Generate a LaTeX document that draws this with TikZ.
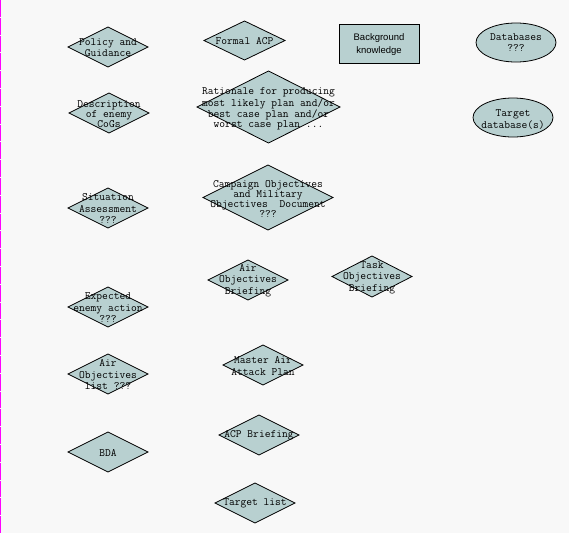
\documentclass[tikz,border=0pt]{standalone}
\usepackage{fontspec}
\setmainfont{Liberation Serif}
\newfontfamily\sansf{Liberation Sans}
\usetikzlibrary{shapes.geometric}
\definecolor{bgc}{HTML}{F8F8F8}
\definecolor{fillc}{HTML}{B8D0D0}
\definecolor{edgec}{HTML}{FF00FF}
\tikzset{
  dia/.style={diamond, draw=black, fill=fillc, line width=0.8pt, inner sep=0pt, outer sep=0pt},
  ell/.style={ellipse, draw=black, fill=fillc, line width=0.8pt, inner sep=0pt, outer sep=0pt},
  boxn/.style={rectangle, draw=black, fill=fillc, line width=0.8pt, inner sep=0pt, outer sep=0pt},
  txt/.style={align=center, inner sep=0pt, font=\ttfamily\fontsize{11.2}{11.7}\selectfont},
  txtt/.style={align=center, inner sep=0pt, font=\ttfamily\fontsize{11.2}{10}\selectfont},
  stxt/.style={align=center, inner sep=0pt, font=\sansf\fontsize{9.5}{13}\selectfont}
}
\begin{document}
\begin{tikzpicture}[x=1pt,y=-1pt]
\fill[bgc] (0,0) rectangle (569,533);
\useasboundingbox (0,0) rectangle (569,533);
\draw[edgec, line width=1.5pt, dash pattern=on 16.8pt off 1pt] (0.7,0) -- (0.7,533);

% left column
\node[dia, minimum width=80, minimum height=40] (pg) at (108,47) {};
\node[txt] (pgt) at (108,47.5) {Policy and\\Guidance};
\node[dia, minimum width=80, minimum height=40] (doe) at (109,113) {};
\node[txtt] (doet) at (109,114.5) {Description\\of enemy\\CoGs};
\node[dia, minimum width=80, minimum height=40] (sa) at (108,208) {};
\node[txt] (sat) at (108,208.8) {Situation\\Assessment\\???};
\node[dia, minimum width=80, minimum height=40] (eea) at (108,307) {};
\node[txt] (eeat) at (108,307.8) {Expected\\enemy action\\???};
\node[dia, minimum width=80, minimum height=40] (aol) at (108,374) {};
\node[txt] (aolt) at (108,374.8) {Air\\Objectives\\list ???};
\node[dia, minimum width=80, minimum height=40] (bda) at (108,452) {};
\node[txt] (bdat) at (108,452.5) {BDA};

% middle column
\node[dia, minimum width=81, minimum height=39] (facp) at (244.5,40.5) {};
\node[txt] (facpt) at (244.5,41) {Formal ACP};
\node[dia, minimum width=143, minimum height=72] (rat) at (268.5,107) {};
\node[txtt] (ratt) at (268.5,108.8) {Rationale for producing\\most likely plan and/or\\best case plan and/or\\worst case plan ...};
\node[dia, minimum width=130, minimum height=65] (camp) at (268,197.5) {};
\node[txtt] (campt) at (268,198.8) {Campaign Objectives\\and Military\\Objectives\ \ Document\\???};
\node[dia, minimum width=80, minimum height=40] (aob) at (248,280) {};
\node[txt] (aobt) at (248,280.5) {Air\\Objectives\\Briefing};
\node[dia, minimum width=80, minimum height=40] (maap) at (263,365) {};
\node[txt] (maapt) at (263,365.7) {Master Air\\Attack Plan};
\node[dia, minimum width=80, minimum height=40] (acpb) at (259,435) {};
\node[txt] (acpbt) at (259,435.5) {ACP Briefing};
\node[dia, minimum width=80, minimum height=40] (tl) at (255,503) {};
\node[txt] (tlt) at (255,503.5) {Target list};

% right part
\node[dia, minimum width=80, minimum height=41] (tob) at (372,276.5) {};
\node[txt] (tobt) at (372,277.7) {Task\\Objectives\\Briefing};
\node[boxn, minimum width=80, minimum height=39] (bk) at (379,43.5) {};
\node[stxt] (bkt) at (379,44.2) {Background\\knowledge};
\node[ell, minimum width=80, minimum height=39] (db) at (516,42.5) {};
\node[txt] (dbt) at (516,42.5) {Databases\\???};
\node[ell, minimum width=80, minimum height=39] (tdb) at (513,117.5) {};
\node[txt] (tdbt) at (513,119.7) {Target\\database(s)};
\end{tikzpicture}
\end{document}
